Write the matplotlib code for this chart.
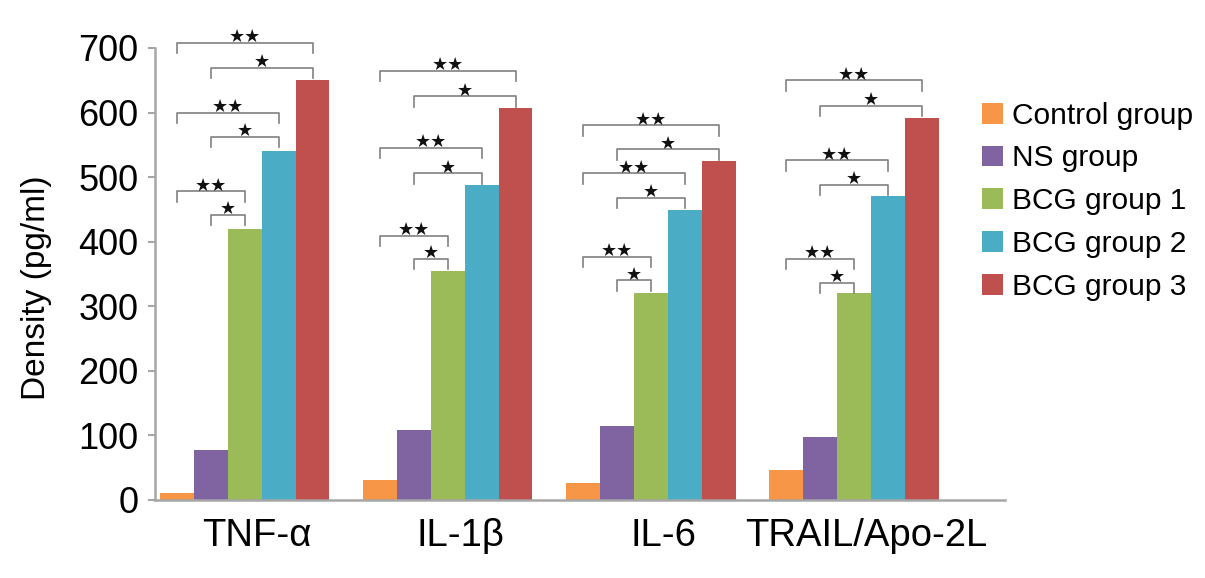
import numpy as np
import matplotlib
matplotlib.use("Agg")
import matplotlib.pyplot as plt

# -------- datos --------
categorias = ["TNF-α", "IL-1β", "IL-6", "TRAIL/Apo-2L"]
grupos = ["Control group", "NS group", "BCG group 1", "BCG group 2", "BCG group 3"]

control = [11, 31, 27, 46]
ns      = [77, 109, 115, 97]
bcg1    = [420, 355, 320, 320]
bcg2    = [541, 488, 449, 471]
bcg3    = [650, 607, 525, 591]

# alturas de los corchetes de significancia, por categoría:
# (control-BCG1, NS-BCG1, control-BCG2, NS-BCG2, control-BCG3, NS-BCG3)
corchete_alturas = [
    [478, 442, 600, 562, 708, 669],
    [409, 373, 545, 506, 665, 625],
    [377, 340, 506, 468, 580, 543],
    [373, 336, 526, 488, 650, 610],
]
# pares comparados (índice de grupo) y su marca
corchete_pares = [(0, 2), (1, 2), (0, 3), (1, 3), (0, 4), (1, 4)]
corchete_marcas = ["★★", "★", "★★", "★", "★★", "★"]

colores = ["#F79646", "#8064A2", "#9BBB59", "#4BACC6", "#C0504D"]

plt.rcParams['font.family'] = ['Liberation Sans', 'DejaVu Sans']

series = [control, ns, bcg1, bcg2, bcg3]
x = np.arange(len(categorias))
ancho = 1 / 6

fig = plt.figure(figsize=(12.05, 5.78), dpi=100)
ax = fig.add_axes([0.1286, 0.135, 0.7054, 0.782])

for i, (vals, nombre) in enumerate(zip(series, grupos)):
    ax.bar(x + (i - 2) * ancho, vals, width=ancho, color=colores[i], label=nombre)

# corchetes
pierna = 16
for c in range(len(categorias)):
    for (g1, g2), h, marca in zip(corchete_pares, corchete_alturas[c], corchete_marcas):
        x1 = x[c] + (g1 - 2) * ancho
        x2 = x[c] + (g2 - 2) * ancho
        ax.plot([x1, x1, x2, x2], [h - pierna, h, h, h - pierna],
                color='#808080', linewidth=1.2, clip_on=False)
        ax.text((x1 + x2) / 2, h + 9, marca, ha='center', va='center',
                fontsize=13, fontweight='bold', color='#111111', family=['DejaVu Sans'])

ax.set_xlim(-0.443, 3.744)
ax.set_ylim(0, 700)
ax.set_yticks(np.arange(0, 701, 100))
ax.set_xticks(x + 0.06)
ax.set_xticklabels(categorias)

for lado in ['top', 'right']:
    ax.spines[lado].set_visible(False)
for lado in ['left', 'bottom']:
    ax.spines[lado].set_color('#a6a6a6')
    ax.spines[lado].set_linewidth(1.8)

ax.tick_params(axis='y', length=5, width=1.5, color='#a6a6a6', labelsize=26, pad=7)
ax.tick_params(axis='x', length=0, labelsize=27.5, pad=13)

ax.set_ylabel("Density (pg/ml)", fontsize=24)
ax.yaxis.set_label_coords(-0.121, 0.47)

fig.legend(loc='upper left', bbox_to_anchor=(0.805, 0.845), frameon=False,
           fontsize=21.5, handlelength=0.7, handleheight=0.7,
           handletextpad=0.3, labelspacing=0.5, borderaxespad=0)

fig.savefig("out.png", dpi=100)
